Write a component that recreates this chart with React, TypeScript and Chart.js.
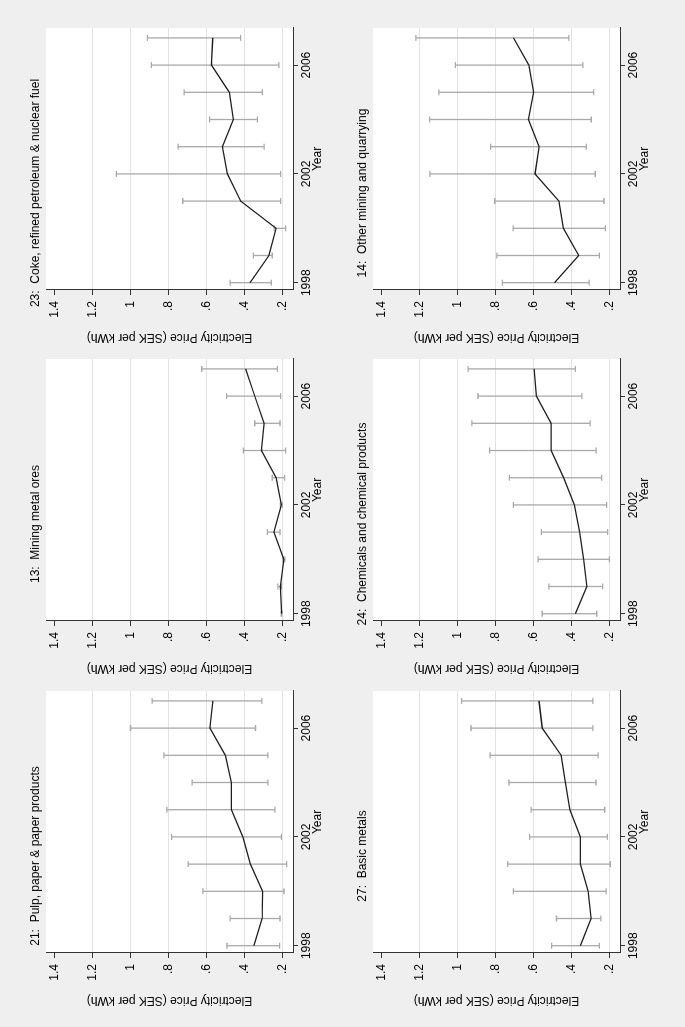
import React, { useEffect, useRef } from "react";
import { Chart, registerables } from "chart.js";

Chart.register(...registerables);

// ---------- data ----------
const years = [1998, 1999, 2000, 2001, 2002, 2003, 2004, 2005, 2006, 2007];
const xTicks = [1998, 2002, 2006];
const yTicks = [0.2, 0.4, 0.6, 0.8, 1.0, 1.2, 1.4];
const yTickLabels = [".2", ".4", ".6", ".8", "1", "1.2", "1.4"];
const yAxisTitle = "Electricity Price (SEK per kWh)";
const xAxisTitle = "Year";

const pulpTitle = "21:  Pulp, paper & paper products";
const pulpMean = [0.35, 0.306, 0.304, 0.368, 0.408, 0.468, 0.468, 0.5, 0.581, 0.565];
const pulpUpper = [0.491, 0.475, 0.618, 0.696, 0.782, 0.807, 0.675, 0.823, 0.999, 0.885];
const pulpLower = [0.214, 0.212, 0.191, 0.177, 0.205, 0.239, 0.276, 0.276, 0.341, 0.308];

const miningTitle = "13:  Mining metal ores";
const miningMean = [0.204, 0.21, 0.192, 0.244, 0.205, 0.233, 0.31, 0.296, 0.345, 0.393];
const miningUpper = [0.206, 0.223, 0.197, 0.279, 0.21, 0.253, 0.405, 0.345, 0.493, 0.624];
const miningLower = [0.202, 0.205, 0.186, 0.212, 0.2, 0.188, 0.183, 0.212, 0.209, 0.226];

const cokeTitle = "23:  Coke, refined petroleum & nuclear fuel";
const cokeMean = [0.37, 0.27, 0.233, 0.419, 0.489, 0.515, 0.458, 0.479, 0.573, 0.566];
const cokeUpper = [0.475, 0.352, 0.243, 0.724, 1.073, 0.748, 0.582, 0.717, 0.889, 0.91];
const cokeLower = [0.258, 0.253, 0.183, 0.209, 0.209, 0.296, 0.331, 0.305, 0.218, 0.419];

const basicTitle = "27:  Basic metals";
const basicMean = [0.352, 0.296, 0.312, 0.352, 0.352, 0.408, 0.431, 0.453, 0.553, 0.57];
const basicUpper = [0.504, 0.478, 0.705, 0.735, 0.619, 0.611, 0.728, 0.827, 0.928, 0.977];
const basicLower = [0.252, 0.244, 0.217, 0.195, 0.21, 0.224, 0.27, 0.259, 0.286, 0.286];

const chemTitle = "24:  Chemicals and chemical products";
const chemMean = [0.379, 0.318, 0.335, 0.356, 0.384, 0.44, 0.506, 0.506, 0.584, 0.596];
const chemUpper = [0.553, 0.518, 0.575, 0.558, 0.705, 0.726, 0.83, 0.923, 0.891, 0.943];
const chemLower = [0.266, 0.235, 0.2, 0.209, 0.214, 0.24, 0.269, 0.301, 0.344, 0.379];

const otherTitle = "14:  Other mining and quarrying";
const otherMean = [0.488, 0.361, 0.442, 0.465, 0.591, 0.569, 0.626, 0.598, 0.623, 0.704];
const otherUpper = [0.763, 0.792, 0.706, 0.803, 1.144, 0.825, 1.146, 1.097, 1.01, 1.218];
const otherLower = [0.306, 0.252, 0.221, 0.228, 0.274, 0.321, 0.295, 0.283, 0.339, 0.413];

// ---------- layout / style ----------
const X_MIN = 1997.732;
const X_MAX = 2007.364;
const Y_MIN = 0.1437;
const Y_MAX = 1.4437;
const FONT = '"Liberation Sans", Arial, Helvetica, sans-serif';
const BG = "#efefef";
const CANVAS_W = 330;
const CANVAS_H = 315;

type PanelDef = { title: string; mean: number[]; upper: number[]; lower: number[]; left: number; top: number };

const panels: PanelDef[] = [
  { title: pulpTitle, mean: pulpMean, upper: pulpUpper, lower: pulpLower, left: 10, top: 16 },
  { title: miningTitle, mean: miningMean, upper: miningUpper, lower: miningLower, left: 342, top: 16 },
  { title: cokeTitle, mean: cokeMean, upper: cokeUpper, lower: cokeLower, left: 673, top: 16 },
  { title: basicTitle, mean: basicMean, upper: basicUpper, lower: basicLower, left: 10, top: 343 },
  { title: chemTitle, mean: chemMean, upper: chemUpper, lower: chemLower, left: 342, top: 343 },
  { title: otherTitle, mean: otherMean, upper: otherUpper, lower: otherLower, left: 673, top: 343 },
];

const decoPlugin = {
  id: "panelDeco",
  beforeDraw(chart: any) {
    const a = chart.chartArea;
    const ctx = chart.ctx;
    ctx.save();
    ctx.fillStyle = "#ffffff";
    ctx.fillRect(a.left, a.top, a.right - a.left, a.bottom - a.top);
    ctx.restore();
  },
  beforeDatasetsDraw(chart: any, _args: any, opts: any) {
    const ctx = chart.ctx;
    const xs = chart.scales.x;
    const ys = chart.scales.y;
    ctx.save();
    ctx.strokeStyle = "#a9a9a9";
    ctx.lineWidth = 1.3;
    years.forEach((yr, i) => {
      const px = xs.getPixelForValue(yr);
      const pu = ys.getPixelForValue(opts.upper[i]);
      const pl = ys.getPixelForValue(opts.lower[i]);
      ctx.beginPath();
      ctx.moveTo(px, pu);
      ctx.lineTo(px, pl);
      ctx.moveTo(px - 3, pu);
      ctx.lineTo(px + 3, pu);
      ctx.moveTo(px - 3, pl);
      ctx.lineTo(px + 3, pl);
      ctx.stroke();
    });
    ctx.restore();
  },
  afterDraw(chart: any, _args: any, opts: any) {
    const ctx = chart.ctx;
    const a = chart.chartArea;
    ctx.save();
    ctx.fillStyle = "#000";
    ctx.font = `12px ${FONT}`;
    ctx.textAlign = "center";
    ctx.textBaseline = "middle";
    ctx.fillText(opts.title, a.left + 97, a.top - 10);
    ctx.fillText(xAxisTitle, (a.left + a.right) / 2, a.bottom + 25);
    ctx.translate(a.left - 47.5, (a.top + a.bottom) / 2);
    ctx.rotate(-Math.PI / 2);
    ctx.fillText(yAxisTitle, 0, 0);
    ctx.restore();
  },
};

function Panel({ p }: { p: PanelDef }) {
  const ref = useRef<HTMLCanvasElement | null>(null);
  useEffect(() => {
    if (!ref.current) return;
    const chart = new Chart(ref.current, {
      type: "line",
      data: {
        datasets: [
          {
            data: years.map((y, i) => ({ x: y, y: p.mean[i] })),
            borderColor: "#1e1e1e",
            borderWidth: 1.3,
            pointRadius: 0,
            tension: 0,
            fill: false,
          },
        ],
      },
      options: {
        animation: false,
        responsive: false,
        devicePixelRatio: 1,
        layout: { padding: { top: 30, right: 4, left: 0, bottom: 0 } },
        plugins: {
          legend: { display: false },
          tooltip: { enabled: false },
          title: { display: false },
          panelDeco: { title: p.title, upper: p.upper, lower: p.lower },
        } as any,
        scales: {
          x: {
            type: "linear",
            min: X_MIN,
            max: X_MAX,
            bounds: "data",
            afterBuildTicks: (s: any) => {
              s.ticks = xTicks.map((v) => ({ value: v }));
            },
            afterFit: (s: any) => {
              s.height = 38;
            },
            grid: { drawOnChartArea: false, drawTicks: true, tickLength: 5, tickColor: "#333" },
            border: { display: true, color: "#333", width: 1 },
            ticks: {
              autoSkip: false,
              maxRotation: 0,
              minRotation: 0,
              padding: 1,
              color: "#000",
              font: { family: FONT, size: 12 },
              callback: (v: any) => String(v),
            },
          },
          y: {
            type: "linear",
            min: Y_MIN,
            max: Y_MAX,
            bounds: "data",
            afterBuildTicks: (s: any) => {
              s.ticks = yTicks.map((v) => ({ value: v }));
            },
            afterFit: (s: any) => {
              s.width = 64;
            },
            grid: {
              color: (c: any) => (c.tick && c.tick.value > 1.3 ? "rgba(0,0,0,0)" : "#e3e3e3"),
              lineWidth: 1,
              drawTicks: true,
              tickLength: 5,
              tickColor: "#333",
            },
            border: { display: true, color: "#333", width: 1 },
            ticks: {
              autoSkip: false,
              padding: 6,
              color: "#000",
              font: { family: FONT, size: 12 },
              callback: (_v: any, i: number) => yTickLabels[i],
            },
          },
        },
      },
      plugins: [decoPlugin as any],
    });
    return () => chart.destroy();
  }, [p]);
  return (
    <canvas
      ref={ref}
      width={CANVAS_W}
      height={CANVAS_H}
      style={{ position: "absolute", left: p.left, top: p.top, width: CANVAS_W, height: CANVAS_H }}
    />
  );
}

export default function App() {
  useEffect(() => {
    document.body.style.background = BG;
    document.body.style.overflow = "hidden";
  }, []);
  return (
    <div
      style={{
        position: "fixed",
        left: 0,
        top: 0,
        width: 1027,
        height: 685,
        background: BG,
        transformOrigin: "0 0",
        transform: "translateY(1027px) rotate(-90deg)",
      }}
    >
      {panels.map((p, i) => (
        <Panel key={i} p={p} />
      ))}
    </div>
  );
}
